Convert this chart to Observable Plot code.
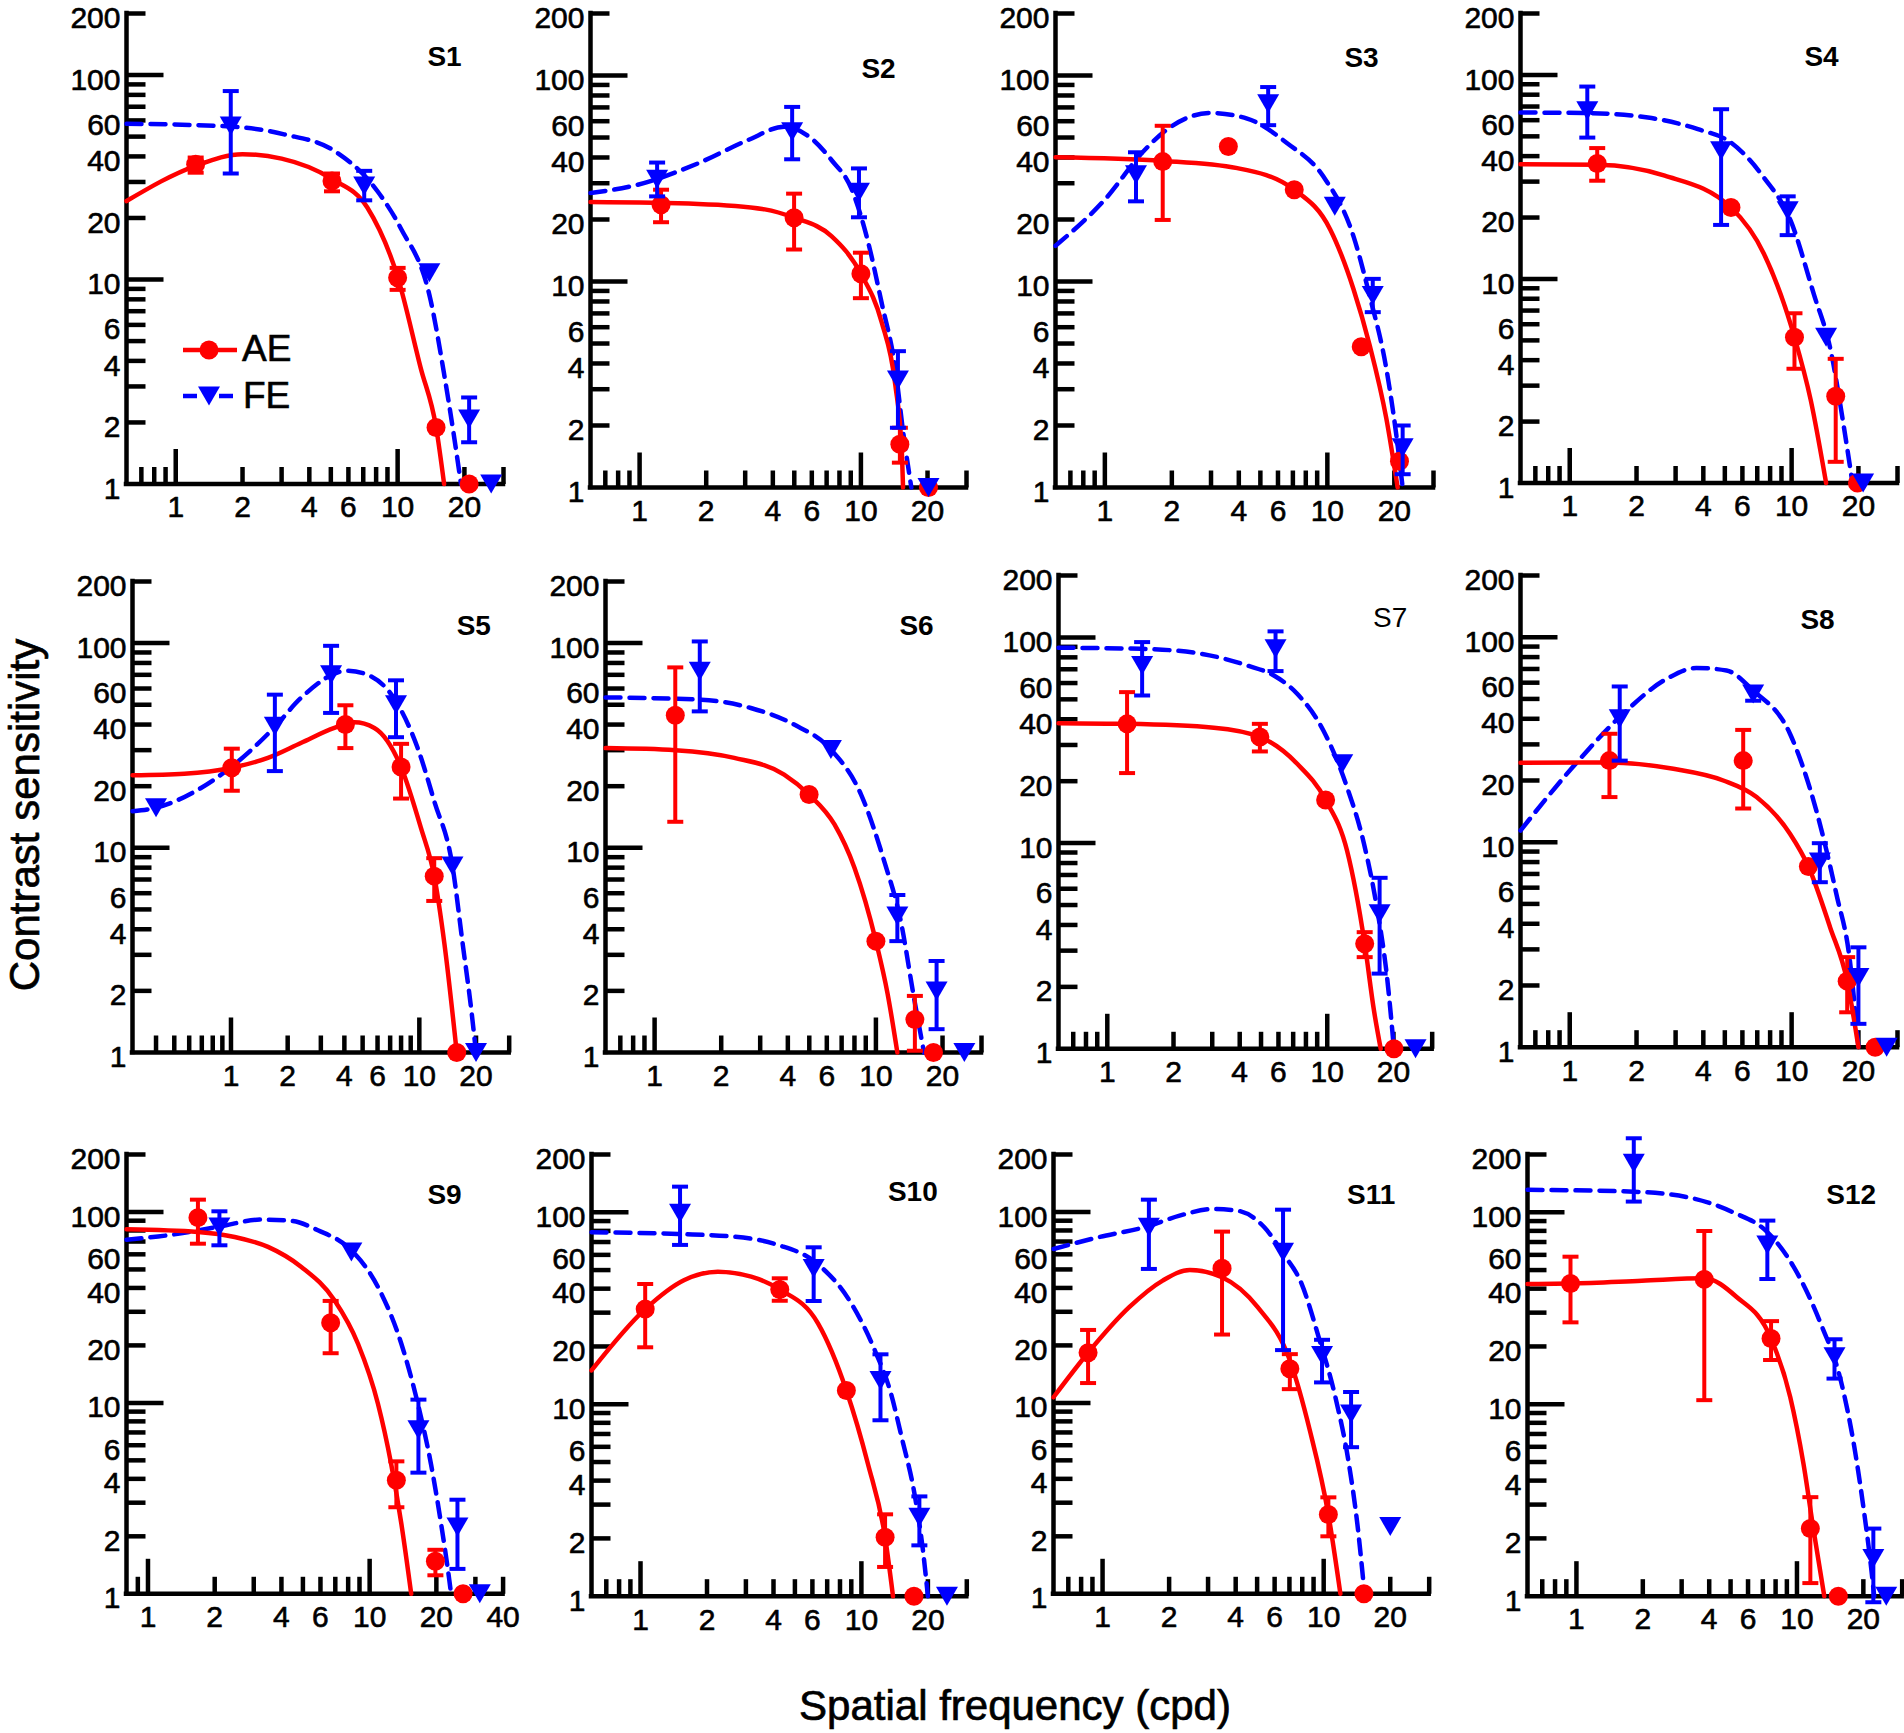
<!DOCTYPE html>
<html><head><meta charset="utf-8">
<script src="https://cdn.jsdelivr.net/npm/d3@7"></script>
<script src="https://cdn.jsdelivr.net/npm/@observablehq/plot@0.6"></script>
<style>
html,body{margin:0;padding:0;background:#fff;}
#chart{position:relative;width:1904px;height:1733px;overflow:hidden;font-family:"Liberation Sans",Arial,Helvetica,sans-serif;background:#fff;}
.panel{position:absolute;}
.panel svg{max-width:none;overflow:visible;display:block;}
.title{position:absolute;font-size:42px;color:#000;white-space:nowrap;line-height:1;-webkit-text-stroke:0.7px #000;}
</style></head><body><div id="chart"></div>
<script>
// ---------------- data ----------------
const panelNames = ["S1","S2","S3","S4","S5","S6","S7","S8","S9","S10","S11","S12"];
const yLabelTicks = [1,2,4,6,10,20,40,60,100,200];
const yLongTicks = [10,100];
const yShortTicks = [2,3,4,5,6,7,8,9,20,30,40,50,60,70,80,90,200];
const xLabelTicks = [1,2,4,6,10,20];
const xLabelTicksS9 = [1,2,4,6,10,20,40];
const xLongTicks = [1,10];
const xShortTicks = [0.4,0.5,0.6,0.7,0.8,0.9,2,3,4,5,6,7,8,9,20,30,40];
const legendLabels = ["AE","FE"];
const xTitle = "Spatial frequency (cpd)";
const yTitle = "Contrast sensitivity";

// points: [frequency, sensitivity, errLow, errHigh]
const S1_AE = [[1.23,36.6,33.3,39.5],[5.06,30.3,27,33],[10,10.2,8.9,11.4],[14.9,1.89,null,null],[21,1,null,null]];
const S1_FE = [[1.77,56.3,33,83.5],[7.07,28.7,24.4,34],[13.9,10.8,null,null],[21,2.08,1.6,2.65],[26.4,1,null,null]];
const S1_AE_FIT = [[0.6,24.2],[1.23,36],[2,41],[3,39],[5.06,31],[7.3,22.5],[10,10.3],[12.7,3.7],[14.9,1.9],[16.2,1]];
const S1_FE_FIT = [[0.6,57.8],[1.77,56],[3.08,51.3],[5.2,42.5],[8.1,27.1],[10.3,17.9],[14.1,7.87],[16.2,3.45],[17.9,1.75],[19.3,1]];

const S2_AE = [[1.25,23.6,19.4,27.9],[4.99,20.4,14.3,26.7],[10,10.9,8.3,13.8],[15,1.62,1.32,1.95],[20.2,1,null,null]];
const S2_FE = [[1.2,31.4,25.9,37.8],[4.89,53.3,39.2,70.4],[9.8,27.1,20.5,35.4],[14.7,3.33,1.95,4.59],[20.2,1,null,null]];
const S2_AE_FIT = [[0.6,24.3],[1.84,23.8],[3.68,22.4],[4.99,20.4],[7.36,16.6],[10,10.9],[12.4,6.36],[14.3,3.15],[15.3,1.5],[15.5,1]];
const S2_FE_FIT = [[0.6,26.9],[0.98,29.5],[1.84,37.5],[3.09,48.6],[4.5,56.4],[5.97,49.5],[7.36,38.9],[9.1,27.9],[10.8,15.4],[12.4,7.9],[14.3,3.79],[15.5,1.88],[16.9,1]];

const S3_AE = [[1.82,38.2,19.9,57],[3.59,45.2,null,null],[7.1,27.9,null,null],[14.2,4.82,null,null],[21.1,1.34,null,null]];
const S3_FE = [[1.38,33,24.5,42.4],[5.42,73,57.4,87.9],[10.8,23.2,null,null],[16,8.55,7.1,10.3],[21.8,1.56,1.16,2.0]];
const S3_AE_FIT = [[0.6,40.1],[1.82,38.5],[3.94,35.5],[7.1,27.9],[10.3,17.9],[13.1,9.2],[15.5,4.9],[18.4,2.17],[20.7,1]];
const S3_FE_FIT = [[0.6,14.9],[1,25],[1.51,43.5],[1.98,56.4],[2.99,65.8],[4.36,61.8],[6.6,46.9],[9.6,32.3],[13.1,16.6],[15.5,8.5],[18.4,3.79],[20.4,1.81],[21.8,1]];

const S4_AE = [[1.33,36.8,30.3,43.8],[5.33,22.4,null,null],[10.3,5.18,3.63,6.79],[15.8,2.66,1.27,4.06],[19.8,1,null,null]];
const S4_FE = [[1.2,66.7,49.3,87.7],[4.81,42.5,18.4,67.9],[9.6,21.6,16.4,25.4],[14.3,5.18,null,null],[21,1,null,null]];
const S4_AE_FIT = [[0.6,36.5],[1.33,36.3],[2.68,32.1],[5.33,22.4],[7.5,13.3],[10.3,5.18],[12.2,2.54],[14.3,1]];
const S4_FE_FIT = [[0.6,65.4],[1.2,65],[2.25,61.8],[3.78,54.2],[5.33,46.6],[7.5,31.4],[9.9,19.3],[12.6,8.4],[15,4.46],[17.2,1.88],[18.8,1]];

const S5_AE = [[1.01,24.6,19,30.5],[4.05,40,30.7,49.7],[8,24.8,17.4,32.2],[12,7.27,5.5,8.9],[15.8,1,null,null]];
const S5_FE = [[0.4,15.7,null,null],[1.71,39.2,23.7,56],[3.4,70.1,45.6,97],[7.52,50,34.7,65.8],[15,8.14,null,null],[20,1,null,null]];
const S5_AE_FIT = [[0.3,22.6],[0.565,23],[1.01,24.6],[1.57,27.5],[2.35,32.5],[3.54,38.5],[4.51,41],[5.77,38.5],[8,24.8],[10.2,12.5],[12,7.27],[13.6,3.38],[15.8,1]];
const S5_FE_FIT = [[0.3,15.1],[0.4,15.7],[0.693,19.6],[1.04,25.5],[1.71,39],[2.35,53.9],[4.16,73.3],[5.32,70],[7.52,51.9],[9.8,30.7],[12,16.9],[15,8.14],[17,3.38],[18.9,1.6],[20,1]];

const S6_AE = [[1.24,44.4,13.4,76.1],[4.99,18.2,null,null],[10,3.5,null,null],[15,1.45,1.02,1.89],[18.2,1,null,null]];
const S6_FE = [[1.6,72.8,46.4,101.9],[6.26,30.2,null,null],[12.5,4.64,3.5,5.88],[18.8,2.0,1.3,2.8],[25.1,1,null,null]];
const S6_AE_FIT = [[0.6,30.7],[1.24,30],[2.29,27.5],[3.85,22.8],[4.99,18.2],[6.5,13],[8,7.99],[10,3.5],[11.3,1.93],[12.5,1]];
const S6_FE_FIT = [[0.6,54.3],[1.62,52.9],[2.72,48.2],[4.27,40],[6.26,30.2],[8.57,18.2],[10.9,8.61],[12.95,4.39],[14.9,1.82],[16.5,1]];

const S7_AE = [[1.23,38,21.9,54.2],[4.94,32.8,27.9,38],[9.83,16.2,null,null],[14.8,3.24,2.79,3.69],[20.1,1,null,null]];
const S7_FE = [[1.44,73.1,52.2,94.9],[5.82,88.1,68.6,107],[11.7,24.3,null,null],[17.3,4.53,2.32,6.78],[25.2,1,null,null]];
const S7_AE_FIT = [[0.6,38.3],[1.23,38],[3.05,36.4],[4.94,32.8],[7.3,24.3],[9.83,16.2],[12.3,9.2],[14.8,3.24],[16.3,1.54],[17.5,1]];
const S7_FE_FIT = [[0.6,89.1],[1.42,88],[2.56,83.9],[4.33,73],[5.72,65.3],[7.3,53.2],[9.6,35.3],[12.3,18.7],[14.7,9.9],[16.9,4.71],[18.7,2.23],[20.1,1]];

const S8_AE = [[1.51,25,16.6,33.8],[6.05,25,14.6,35.3],[11.9,7.61,null,null],[17.8,2.1,1.48,2.75],[23.8,1,null,null]];
const S8_FE = [[1.68,40,25,57.5],[6.71,52.9,49,57],[13.4,8.0,6.38,9.89],[20,2.19,1.3,3.07],[26.8,1,null,null]];
const S8_AE_FIT = [[0.6,24.4],[1.51,24.5],[2.93,22.8],[4.92,20],[6.95,16.6],[9.83,11],[11.9,7.61],[14.9,3.85],[17.8,2.1],[20,1]];
const S8_FE_FIT = [[0.6,11.4],[1.03,23.2],[1.74,42.3],[2.73,62.6],[3.72,70.8],[5.09,68.8],[6.71,55],[9.83,33.8],[12.8,14.8],[15.9,5.6],[18.3,2.65],[20,1]];

const S9_AE = [[1.68,93.4,68.2,116],[6.67,26.3,18.2,34.2],[13.2,3.93,2.84,4.94],[19.8,1.48,1.25,1.7],[26.4,1,null,null]];
const S9_FE = [[2.1,83.5,66.9,100.8],[8.27,61.7,null,null],[16.6,7.23,4.31,10.4],[24.9,2.24,1.35,3.11],[31.4,1,null,null]];
const S9_AE_FIT = [[0.8,81.2],[1.68,78.6],[2.46,74],[3.48,65.6],[4.92,51.5],[6.95,34.4],[8.86,20.4],[10.9,9.9],[12.5,4.8],[13.9,2.33],[15.4,1]];
const S9_FE_FIT = [[0.8,71.6],[1.23,75.5],[2.07,83.5],[3.25,91.2],[4.43,89.8],[5.84,80.2],[8.27,63],[10.9,40.5],[13.9,20.4],[16.5,9.9],[18.9,4.8],[21,2.33],[22.9,1.17],[23.3,1]];

const S10_AE = [[1.05,31.3,19.8,42.3],[4.27,39.6,34.6,45.3],[8.55,11.8,null,null],[12.8,2.03,1.42,2.67],[17.3,1,null,null]];
const S10_FE = [[1.51,98.8,67.6,136],[6.08,51,34.5,65.7],[12.2,13.3,8.25,18.2],[18.3,2.58,1.84,3.31],[24.4,1,null,null]];
const S10_AE_FIT = [[0.6,15],[1.05,31.3],[1.58,44.4],[2.24,49],[3.17,46.2],[4.27,39.6],[6.36,26.4],[8.55,11.8],[10.7,4.9],[12.8,2.03],[13.9,1]];
const S10_FE_FIT = [[0.6,78.7],[1.51,77],[2.67,74.6],[4.19,67.6],[6.14,55.3],[9,33.5],[11.5,19.1],[13.6,11.4],[15.2,6.76],[17.5,3.28],[19,1.73],[20,1]];

const S11_AE = [[0.86,18.3,12.7,24.1],[3.47,50.7,22.8,78.9],[7.03,15.1,11.8,18],[10.5,2.6,2.0,3.2],[15.2,1,null,null]];
const S11_FE = [[1.62,83.1,50.3,116],[6.55,61.5,18.9,102.8],[9.83,17.7,12.8,21.4],[13.3,8.75,5.86,11.4],[20,2.25,null,null]];
const S11_AE_FIT = [[0.6,10.7],[0.86,18.3],[1.32,31.7],[1.87,43.7],[2.48,49.7],[3.47,45.5],[5.03,31.7],[7.03,16.7],[8.66,7.16],[10.5,2.6],[11.9,1]];
const S11_FE_FIT = [[0.6,64],[0.93,73.1],[1.62,84.5],[2.23,95.7],[3.18,103.7],[4.07,101.6],[5.39,83.1],[6.55,60.6],[7.95,42],[9.49,22.1],[11.3,10.7],[13,4.8],[14.2,2.32],[15.3,1]];

const S12_AE = [[0.94,42.6,26.7,58.7],[3.8,44.7,10.5,79.9],[7.63,22,17,27.1],[11.5,2.25,1.17,3.28],[15.4,1,null,null]];
const S12_FE = [[1.82,180,113.7,243],[7.34,67.6,44.9,90.5],[14.8,17.7,13.6,21.8],[22.2,1.57,0.93,2.25],[25.4,1,null,null]];
const S12_AE_FIT = [[0.6,42.3],[0.94,42.6],[1.98,44],[3.8,45.3],[5.31,36.3],[7.63,22],[9.32,10.9],[10.7,4.9],[11.9,2.2],[13.3,1]];
const S12_FE_FIT = [[0.6,130.9],[1.82,128],[3.36,118.3],[5.13,100],[7.3,79.3],[9.65,52.1],[12.8,26.4],[15.8,13.3],[18.2,5.99],[20.2,2.69],[21.6,1.47],[22.4,1]];

const AE_POINTS = [S1_AE,S2_AE,S3_AE,S4_AE,S5_AE,S6_AE,S7_AE,S8_AE,S9_AE,S10_AE,S11_AE,S12_AE];
const FE_POINTS = [S1_FE,S2_FE,S3_FE,S4_FE,S5_FE,S6_FE,S7_FE,S8_FE,S9_FE,S10_FE,S11_FE,S12_FE];
const AE_FITS = [S1_AE_FIT,S2_AE_FIT,S3_AE_FIT,S4_AE_FIT,S5_AE_FIT,S6_AE_FIT,S7_AE_FIT,S8_AE_FIT,S9_AE_FIT,S10_AE_FIT,S11_AE_FIT,S12_AE_FIT];
const FE_FITS = [S1_FE_FIT,S2_FE_FIT,S3_FE_FIT,S4_FE_FIT,S5_FE_FIT,S6_FE_FIT,S7_FE_FIT,S8_FE_FIT,S9_FE_FIT,S10_FE_FIT,S11_FE_FIT,S12_FE_FIT];

// ---------------- layout (page pixels) ----------------
const layout = [
  {left:126,   right:503,  top:13,    bottom:483.5,  xDomain:[0.6,30], lx:444,  ly:57,   bold:true},
  {left:590,   right:966,  top:12.5,  bottom:486.5,  xDomain:[0.6,30], lx:878,  ly:68,   bold:true},
  {left:1055,  right:1433, top:12.5,  bottom:486.5,  xDomain:[0.6,30], lx:1361, ly:57,   bold:true},
  {left:1520,  right:1897, top:13,    bottom:482.5,  xDomain:[0.6,30], lx:1821, ly:57,   bold:true},
  {left:131.7, right:508.4,top:580.7, bottom:1051.7, xDomain:[0.3,30], lx:473,  ly:625,  bold:true},
  {left:605,   right:981,  top:580.7, bottom:1051.7, xDomain:[0.6,30], lx:916,  ly:625,  bold:true},
  {left:1058.3,right:1432, top:575,   bottom:1048.3, xDomain:[0.6,30], lx:1390, ly:618,  bold:false},
  {left:1520,  right:1897, top:575,   bottom:1046.7, xDomain:[0.6,30], lx:1817, ly:620,  bold:true},
  {left:126,   right:502.6,top:1154,  bottom:1593.3, xDomain:[0.8,40], lx:444,  ly:1195, bold:true},
  {left:590.7, right:966,  top:1154,  bottom:1595.7, xDomain:[0.6,30], lx:912,  ly:1192, bold:true},
  {left:1053.3,right:1429, top:1154,  bottom:1593.3, xDomain:[0.6,30], lx:1371, ly:1195, bold:true},
  {left:1527.3,right:1902, top:1154,  bottom:1595.7, xDomain:[0.6,30], lx:1851, ly:1195, bold:true}
];

const RED = "#ff0000", BLUE = "#0000ff";
const FONT = '"Liberation Sans", Arial, Helvetica, sans-serif';
const capSymbol = {draw(ctx){ ctx.moveTo(-8,0); ctx.lineTo(8,0); }};
const downTriangle = {draw(ctx){ ctx.moveTo(-11,-9.5); ctx.lineTo(11,-9.5); ctx.lineTo(0,9.5); ctx.closePath(); }};
const tickRight = len => ({draw(ctx){ ctx.moveTo(0,0); ctx.lineTo(len,0); }});
const tickUp = len => ({draw(ctx){ ctx.moveTo(0,0); ctx.lineTo(0,-len); }});

const chart = document.getElementById("chart");
const mL = 70, mR = 30, mT = 30, mB = 60;
const labelStyle = {fontSize: 30, fontFamily: FONT, fill: "black", stroke: "black", strokeWidth: 0.6};
const TICK_W = 4.5;

function seriesMarks(points, fit, color, isFE) {
  const errs = points.filter(d => d[2] != null && d[3] != null);
  return {
    line: Plot.line(fit, {x: d => d[0], y: d => d[1], stroke: color, strokeWidth: 4.5,
      curve: "monotone-x", strokeDasharray: isFE ? "15,9" : null}),
    pts: [
      Plot.ruleX(errs, {x: d => d[0], y1: d => d[2], y2: d => d[3], stroke: color, strokeWidth: 4}),
      Plot.dot(errs, {x: d => d[0], y: d => d[3], symbol: capSymbol, fill: "none", stroke: color, strokeWidth: 4, r: 8}),
      Plot.dot(errs, {x: d => d[0], y: d => d[2], symbol: capSymbol, fill: "none", stroke: color, strokeWidth: 4, r: 8}),
      isFE
        ? Plot.dot(points, {x: d => d[0], y: d => d[1], symbol: downTriangle, fill: color, stroke: "none", r: 9})
        : Plot.dot(points, {x: d => d[0], y: d => d[1], r: 9.5, fill: color, stroke: "none"})
    ]
  };
}

layout.forEach((L, i) => {
  const [x0, x1] = L.xDomain;
  const w = L.right - L.left, h = L.bottom - L.top;
  const ae = seriesMarks(AE_POINTS[i], AE_FITS[i], RED, false);
  const fe = seriesMarks(FE_POINTS[i], FE_FITS[i], BLUE, true);
  const xShort = xShortTicks.filter(t => t > x0 * 1.001 && t <= x1 * 1.001);
  const xLabels = i === 8 ? xLabelTicksS9 : xLabelTicks;
  const plot = Plot.plot({
    width: w + mL + mR, height: h + mT + mB,
    marginLeft: mL, marginRight: mR, marginTop: mT, marginBottom: mB,
    style: {background: "transparent", overflow: "visible", fontFamily: FONT, color: "black"},
    x: {type: "log", domain: L.xDomain, axis: null},
    y: {type: "log", domain: [1, 200], axis: null},
    marks: [
      // axis ticks (inside), drawn through the scales
      Plot.dot(yShortTicks, {y: d => d, frameAnchor: "left", symbol: tickRight(19), stroke: "black", strokeWidth: TICK_W, fill: "none"}),
      Plot.dot(yLongTicks, {y: d => d, frameAnchor: "left", symbol: tickRight(37), stroke: "black", strokeWidth: TICK_W, fill: "none"}),
      Plot.dot(xShort, {x: d => d, frameAnchor: "bottom", symbol: tickUp(17), stroke: "black", strokeWidth: TICK_W, fill: "none"}),
      Plot.dot(xLongTicks, {x: d => d, frameAnchor: "bottom", symbol: tickUp(35), stroke: "black", strokeWidth: TICK_W, fill: "none"}),
      // tick labels
      Plot.text(yLabelTicks, {y: d => d, text: d => `${d}`, frameAnchor: "left", textAnchor: "end", dx: -6, dy: 5, ...labelStyle}),
      Plot.text(xLabels, {x: d => d, text: d => `${d}`, frameAnchor: "bottom", lineAnchor: "top", dy: 12, ...labelStyle}),
      // axis lines
      Plot.ruleY([1], {stroke: "black", strokeWidth: 4.5, strokeLinecap: "square"}),
      Plot.ruleX([x0], {stroke: "black", strokeWidth: 4.5, strokeLinecap: "square"}),
      fe.line,
      ae.line,
      ...ae.pts,
      ...fe.pts,
      Plot.text([panelNames[i]], {frameAnchor: "top-left", dx: L.lx - L.left, dy: L.ly - L.top,
        textAnchor: "middle", lineAnchor: "middle", fontSize: 28, fontFamily: FONT,
        fontWeight: L.bold ? "bold" : "normal", fill: "black"})
    ]
  });
  const div = document.createElement("div");
  div.className = "panel";
  div.style.left = (L.left - mL) + "px";
  div.style.top = (L.top - mT) + "px";
  div.style.width = (w + mL + mR) + "px";
  div.appendChild(plot);
  chart.appendChild(div);
});

// legend inside S1
const leg = d3.select(chart).append("svg")
  .style("position", "absolute").style("left", "170px").style("top", "320px")
  .attr("width", 140).attr("height", 110).style("overflow", "visible");
const lg = leg.append("g").attr("transform", "translate(-170,-320)");
lg.append("line").attr("x1", 183).attr("x2", 237).attr("y1", 350).attr("y2", 350)
  .attr("stroke", RED).attr("stroke-width", 4.5);
lg.append("circle").attr("cx", 209).attr("cy", 350).attr("r", 9.5).attr("fill", RED);
lg.append("text").attr("x", 242).attr("y", 361).attr("font-size", 37).attr("font-family", FONT)
  .attr("stroke", "black").attr("stroke-width", 0.6).text(legendLabels[0]);
lg.append("line").attr("x1", 183).attr("x2", 237).attr("y1", 396).attr("y2", 396)
  .attr("stroke", BLUE).attr("stroke-width", 4.5).attr("stroke-dasharray", "14,22");
lg.append("path").attr("transform", "translate(209,396)").attr("d", "M-11,-9.5L11,-9.5L0,9.5Z").attr("fill", BLUE);
lg.append("text").attr("x", 243).attr("y", 408).attr("font-size", 37).attr("font-family", FONT)
  .attr("stroke", "black").attr("stroke-width", 0.6).text(legendLabels[1]);

// axis titles
const yt = document.createElement("div");
yt.className = "title"; yt.textContent = yTitle;
yt.style.left = "25px"; yt.style.top = "815px";
yt.style.transform = "translate(-50%,-50%) rotate(-90deg)";
chart.appendChild(yt);
const xt = document.createElement("div");
xt.className = "title"; xt.textContent = xTitle;
xt.style.left = "1015px"; xt.style.top = "1706px";
xt.style.transform = "translate(-50%,-50%)";
chart.appendChild(xt);
</script></body></html>
